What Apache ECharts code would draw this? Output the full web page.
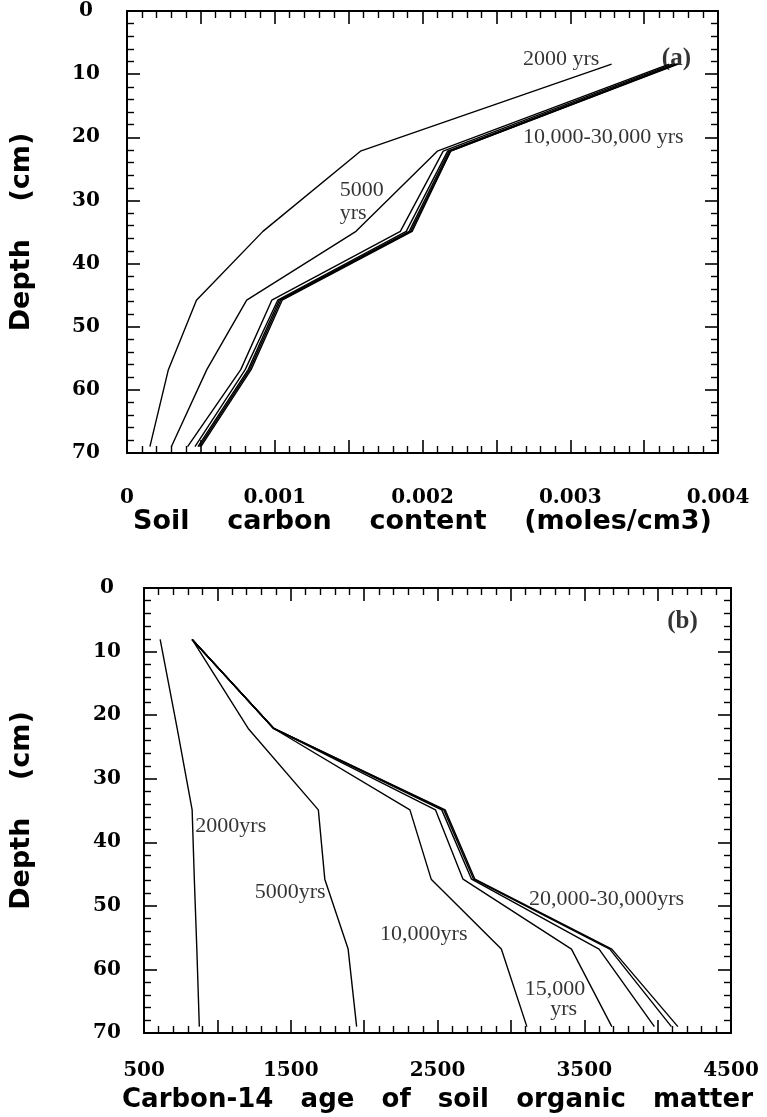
<!DOCTYPE html>
<html><head><meta charset="utf-8">
<script src="https://cdn.jsdelivr.net/npm/echarts@6/dist/echarts.min.js"></script>
<style>html,body{margin:0;padding:0;background:#fff}#c{width:767px;height:1117px}</style>
</head><body><div id="c"></div>
<script>
// ---- data: panel (a) soil carbon content vs depth ----
const depthA = [8.4, 22.2, 34.9, 45.8, 56.8, 69];
const carbon2000 = [0.00328, 0.00158, 0.00092, 0.00047, 0.00028, 0.000155];
const carbon5000 = [0.00367, 0.00210, 0.00155, 0.00081, 0.00054, 0.00030];
const carbon10000 = [0.00369, 0.00214, 0.00185, 0.00098, 0.00077, 0.00041];
const carbon15000 = [0.00371, 0.00217, 0.00189, 0.00102, 0.00080, 0.00046];
const carbon20000 = [0.00372, 0.00218, 0.00191, 0.00103, 0.00082, 0.00048];
const carbon25000 = [0.00372, 0.00219, 0.00192, 0.00104, 0.00083, 0.00049];
const carbon30000 = [0.00373, 0.00219, 0.00193, 0.00105, 0.00084, 0.00050];

// ---- data: panel (b) carbon-14 age vs depth ----
const depthB = [8.1, 22.1, 34.9, 45.8, 56.8, 69];
const age2000 = [610, 726, 828, 843, 860, 877];
const age5000 = [828, 1210, 1688, 1732, 1891, 1949];
const age10000 = [828, 1384, 2312, 2457, 2935, 3109];
const age15000 = [828, 1384, 2486, 2674, 3413, 3688];
const age20000 = [828, 1384, 2529, 2732, 3601, 3978];
const age25000 = [828, 1384, 2543, 2746, 3674, 4094];
const age30000 = [828, 1384, 2552, 2755, 3688, 4138];

// ---- tick labels ----
const xTickLabelsA = ['0', '0.001', '0.002', '0.003', '0.004'];
const xTickLabelsB = ['500', '1500', '2500', '3500', '4500'];
const yTickLabels = ['0', '10', '20', '30', '40', '50', '60', '70'];

// ---- annotations (text anchored at data coordinates) ----
const annotationsA = [
  {text: '2000 yrs', x: 0.00268, y: 7.6, bold: false},
  {text: '(a)', x: 0.00362, y: 7.6, bold: true},
  {text: '10,000-30,000 yrs', x: 0.00268, y: 20.0, bold: false},
  {text: '5000', x: 0.00144, y: 28.4, bold: false},
  {text: 'yrs', x: 0.00144, y: 32.0, bold: false}
];
const annotationsB = [
  {text: '2000yrs', x: 850, y: 37.5, bold: false},
  {text: '5000yrs', x: 1254, y: 47.9, bold: false},
  {text: '10,000yrs', x: 2109, y: 54.4, bold: false},
  {text: '20,000-30,000yrs', x: 3123, y: 48.9, bold: false},
  {text: '15,000', x: 3094, y: 63.1, bold: false},
  {text: 'yrs', x: 3268, y: 66.3, bold: false},
  {text: '(b)', x: 4065, y: 5.3, bold: true}
];

const chart = echarts.init(document.getElementById('c'), null, {renderer: 'canvas'});

const BLACK = '#000';
const tickFont = {fontFamily: 'DejaVu Serif', fontWeight: 'bold', fontSize: 20, color: BLACK};
const titleFont = {fontFamily: 'DejaVu Sans', fontWeight: 'bold', fontSize: 27, color: BLACK};
const titleFontB = {fontFamily: 'DejaVu Sans', fontWeight: 'bold', fontSize: 26, color: BLACK};

function xAxisDef(grid, min, max, interval, pos, fmt, name, labelMargin, nameGap, nameStyle) {
  return {
    type: 'value', gridIndex: grid, min: min, max: max, interval: interval, position: pos,
    axisLine: {show: true, onZero: false, lineStyle: {color: BLACK, width: 2}},
    axisTick: {show: true, inside: true, length: 13, lineStyle: {color: BLACK, width: 1.6}},
    minorTick: {show: true, splitNumber: 5, length: 7, lineStyle: {color: BLACK, width: 1.4}},
    splitLine: {show: false},
    axisLabel: fmt ? Object.assign({show: true, margin: labelMargin, formatter: fmt}, tickFont) : {show: false},
    name: name || '', nameLocation: 'middle', nameGap: nameGap || 0, nameTextStyle: nameStyle || titleFont
  };
}
function yAxisDef(grid, pos, showLabels, name, labelMargin, nameGap) {
  return {
    type: 'value', gridIndex: grid, min: 0, max: 70, interval: 10, inverse: true, position: pos,
    axisLine: {show: true, onZero: false, lineStyle: {color: BLACK, width: 2}},
    axisTick: {show: true, inside: true, length: 13, lineStyle: {color: BLACK, width: 1.6}},
    minorTick: {show: true, splitNumber: 5, length: 7, lineStyle: {color: BLACK, width: 1.4}},
    splitLine: {show: false},
    axisLabel: showLabels ? Object.assign({show: true, margin: labelMargin, align: 'center',
      formatter: v => yTickLabels[Math.round(v / 10)]}, tickFont) : {show: false},
    name: name || '', nameLocation: 'middle', nameRotate: 90, nameGap: nameGap || 0, nameTextStyle: titleFont
  };
}

const fmtA = v => { const i = Math.round(v / 0.001); return Math.abs(v - i * 0.001) < 1e-9 ? xTickLabelsA[i] : ''; };
const fmtB = v => { const k = (v - 500) / 1000; const r = Math.round(k); return Math.abs(k - r) < 1e-6 ? xTickLabelsB[r] : ''; };

function lineSeries(values, depths, xi, yi, w) {
  return {
    type: 'line', xAxisIndex: xi, yAxisIndex: yi, symbol: 'none', silent: true, animation: false,
    data: values.map((v, i) => [v, depths[i]]),
    lineStyle: {color: BLACK, width: w}
  };
}
function annoSeries(list, xi, yi) {
  return {
    type: 'scatter', xAxisIndex: xi, yAxisIndex: yi, symbolSize: 1, silent: true, z: 10,
    itemStyle: {color: 'rgba(0,0,0,0)'},
    data: list.map(a => ({
      value: [a.x, a.y], name: a.text,
      label: {show: true, position: 'inside', align: 'left', verticalAlign: 'middle',
        formatter: '{b}', color: BLACK, fontFamily: 'Liberation Serif',
        fontWeight: a.bold ? 'bold' : 'normal', fontSize: a.bold ? 25 : 22}
    }))
  };
}

const seriesA = [carbon2000, carbon5000, carbon10000, carbon15000, carbon20000, carbon25000, carbon30000]
  .map(arr => lineSeries(arr, depthA, 0, 0, 1.4));
const seriesB = [age2000, age5000, age10000, age15000, age20000, age25000, age30000]
  .map(arr => lineSeries(arr, depthB, 2, 2, 1.4));

chart.setOption({
  animation: false,
  backgroundColor: '#fff',
  grid: [
    {left: 127, top: 11, width: 591, height: 442},
    {left: 144, top: 588, width: 587, height: 445}
  ],
  xAxis: [
    xAxisDef(0, 0, 0.004, 0.0005, 'bottom', fmtA, 'Soil    carbon    content    (moles/cm3)', 35, 55),
    xAxisDef(0, 0, 0.004, 0.0005, 'top', null),
    xAxisDef(1, 500, 4500, 500, 'bottom', fmtB, 'Carbon-14   age   of   soil   organic   matter', 28, 54, titleFontB),
    xAxisDef(1, 500, 4500, 500, 'top', null)
  ],
  yAxis: [
    yAxisDef(0, 'left', true, 'Depth    (cm)', 41, 92),
    yAxisDef(0, 'right', false),
    yAxisDef(1, 'left', true, 'Depth    (cm)', 37, 109),
    yAxisDef(1, 'right', false)
  ],
  series: seriesA.concat(seriesB).concat([annoSeries(annotationsA, 0, 0), annoSeries(annotationsB, 2, 2)])
});
</script></body></html>
